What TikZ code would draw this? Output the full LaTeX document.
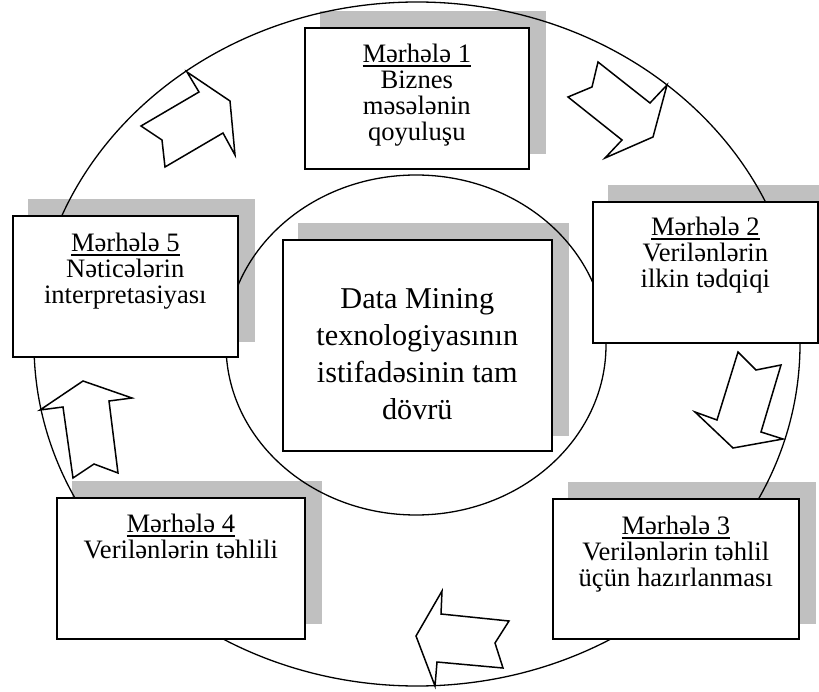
\documentclass[tikz,border=0pt]{standalone}
\usepackage{fontspec}
\setmainfont{Liberation Serif}
\usetikzlibrary{calc}
\definecolor{shadowgray}{RGB}{192,192,192}
\pgfdeclarelayer{shadowlayer}
\pgfdeclarelayer{ringlayer}
\pgfsetlayers{shadowlayer,ringlayer,main}
\newcommand{\stageul}[1]{\leavevmode\vtop{\hbox{#1}\kern2.4pt\hrule height 1.5pt}}
\begin{document}
\begin{tikzpicture}[x=1pt,y=-1pt,
  stagebox/.style={draw=black, line width=1.6pt, fill=white, rectangle, inner sep=0pt, anchor=north west},
  stagetext/.style={font=\fontsize{26.6}{26}\selectfont, align=center, inner sep=0pt, anchor=north},
  centertext/.style={font=\fontsize{30.25}{37}\selectfont, align=center, inner sep=0pt, anchor=north},
  ring/.style={draw=black, line width=1.3pt},
  blockarrow/.style={draw=black, fill=white, line width=1.5pt, line join=miter},
  boxshadow/.style={fill=shadowgray}]
\useasboundingbox (0,0) rectangle (819,692);
\clip (0,0) rectangle (819,692);

% boxes
\node[stagebox, minimum width=224pt, minimum height=141pt] (b1) at (304,27) {};
\node[stagebox, minimum width=225pt, minimum height=141pt] (b2) at (592,201) {};
\node[stagebox, minimum width=246pt, minimum height=140pt] (b3) at (552,498) {};
\node[stagebox, minimum width=248pt, minimum height=141pt] (b4) at (56,497) {};
\node[stagebox, minimum width=225pt, minimum height=141pt] (b5) at (12,215) {};
\node[stagebox, minimum width=269pt, minimum height=211pt] (c0) at (282,239) {};

% texts
\node[stagetext] (t1) at ($(b1.north)+(0,17)$) {\stageul{Mərhələ 1}\\Biznes\\məsələnin\\qoyuluşu};
\node[stagetext] (t2) at ($(b2.north)+(0,16)$) {\stageul{Mərhələ 2}\\Verilənlərin\\ilkin tədqiqi};
\node[stagetext] (t3) at ($(b3.north)+(0,18)$) {\stageul{Mərhələ 3}\\Verilənlərin təhlil\\üçün hazırlanması};
\node[stagetext] (t4) at ($(b4.north)+(0,17)$) {\stageul{Mərhələ 4}\\Verilənlərin təhlili};
\node[stagetext] (t5) at ($(b5.north)+(0,18)$) {\stageul{Mərhələ 5}\\Nəticələrin\\interpretasiyası};
\node[centertext] (tc) at ($(c0.north)+(0,49)$) {Data Mining\\texnologiyasının\\istifadəsinin tam\\dövrü};

% shadows
\begin{pgfonlayer}{shadowlayer}
\foreach \b in {b1,b2,b3,b4,b5,c0}{
  \fill[boxshadow] ([shift={(16,-16)}]\b.north west) rectangle ([shift={(16,-16)}]\b.south east);
}
\end{pgfonlayer}

% rings
\begin{pgfonlayer}{ringlayer}
\draw[ring] (417,344) ellipse [x radius=383pt, y radius=342pt];
\draw[ring] (416,345) ellipse [x radius=190pt, y radius=170pt];
\end{pgfonlayer}

% block arrows
\draw[blockarrow] (187,72) -- (230,101) -- (235,155) -- (223,133) -- (165,167) -- (162,140) -- (141,126) -- (199,92) -- cycle;
\draw[blockarrow] (598,62) -- (650,103) -- (667,85) -- (653,137) -- (605,158) -- (622,140) -- (568,97) -- (592,87) -- cycle;
\draw[blockarrow] (738,352) -- (756,370) -- (781,365) -- (761,432) -- (783,439) -- (733,448) -- (695,412) -- (717,420) -- cycle;
\draw[blockarrow] (442,591) -- (441,614) -- (509,621) -- (495,643) -- (503,668) -- (437,662) -- (435,686) -- (416,636) -- cycle;
\draw[blockarrow] (83,381) -- (132,398) -- (109,401) -- (118,473) -- (94,464) -- (73,478) -- (63,407) -- (40,410) -- cycle;
\end{tikzpicture}
\end{document}
